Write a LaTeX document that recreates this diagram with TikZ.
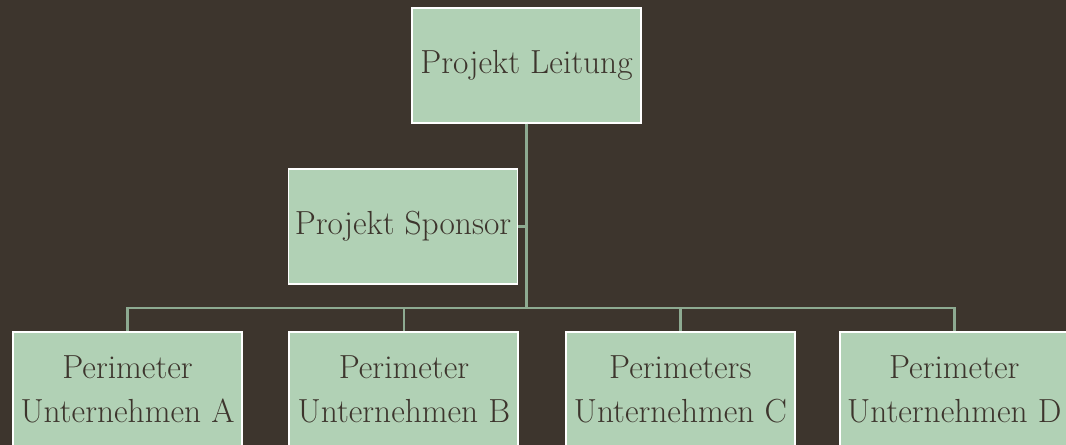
\documentclass[tikz,border=0pt]{standalone}
\usetikzlibrary{positioning}

\definecolor{bgbrown}{HTML}{3D352D}
\definecolor{boxgreen}{HTML}{B1D1B5}
\definecolor{linegreen}{HTML}{8DAA91}

\tikzset{
	orgbox/.style={draw=white, line width=1.1pt, fill=boxgreen, text=bgbrown,
		minimum width=4.58cm, minimum height=2.3cm, inner sep=1pt, align=center,
		font=\fontsize{19}{25}\selectfont},
	conn/.style={draw=linegreen, line width=1.4pt}
}

\begin{document}
\begin{tikzpicture}
	
	\fill[bgbrown] (0,0) rectangle (21.32,-8.9);
	\useasboundingbox (0,0) rectangle (21.32,-8.9);
	
	\node[orgbox] (PL) at (10.53,-1.31) 	{Projekt Leitung};
	\node[orgbox] (PS) at (8.06,-4.53) 		{Projekt Sponsor};
	
	\node[orgbox] (A) at (2.55,-7.79) 		{Perimeter\\Unternehmen A};
	\node[orgbox, right=0.91cm of A] (B) 	{Perimeter\\Unternehmen B};
	\node[orgbox, right=0.91cm of B] (C) 	{Perimeters\\Unternehmen C};
	\node[orgbox, right=0.86cm of C] (D) 	{Perimeter\\Unternehmen D};
	
	\coordinate (bus) at (0,-6.16);
	
	\draw[conn] (PS.east) -- (PS.east -| PL.south);
	\foreach \n in {A, B, C, D}
		\draw[conn] (PL.south) -- (PL.south |- bus) -| (\n.north);
	\end{tikzpicture}
\end{document}
